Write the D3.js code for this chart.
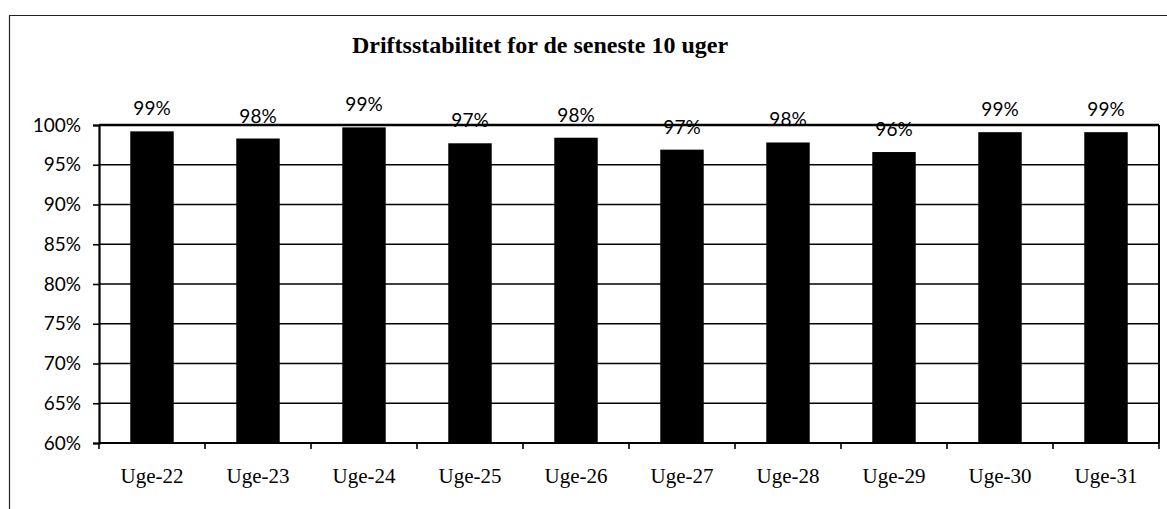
<!DOCTYPE html>
<html>
<head>
<meta charset="utf-8">
<script src="https://cdnjs.cloudflare.com/ajax/libs/d3/7.8.5/d3.min.js"></script>
<style>
  html, body { margin: 0; padding: 0; background: #fff; }
  svg { display: block; }
</style>
</head>
<body>
<div id="chart"></div>
<script>
const categories = ["Uge-22", "Uge-23", "Uge-24", "Uge-25", "Uge-26", "Uge-27", "Uge-28", "Uge-29", "Uge-30", "Uge-31"];
const values = [99.2, 98.3, 99.7, 97.7, 98.4, 96.9, 97.8, 96.6, 99.1, 99.1];
const valueLabels = ["99%", "98%", "99%", "97%", "98%", "97%", "98%", "96%", "99%", "99%"];
const yTicks = [60, 65, 70, 75, 80, 85, 90, 95, 100];
const title = "Driftsstabilitet for de seneste 10 uger";

const W = 1167, H = 509;
const plot = { left: 99, right: 1159, top: 125, bottom: 443 };

const svg = d3.select("#chart").append("svg").attr("width", W).attr("height", H);

// outer chart frame (left + top visible)
svg.append("path")
  .attr("d", `M9.5,${H} L9.5,15.5 L${W},15.5`)
  .attr("fill", "none").attr("stroke", "#222").attr("stroke-width", 1.2);

// title
svg.append("text")
  .attr("x", 540).attr("y", 53)
  .attr("text-anchor", "middle")
  .attr("font-family", "'Liberation Serif', serif")
  .attr("font-weight", "bold")
  .attr("font-size", 24)
  .attr("fill", "#000")
  .text(title);

const x = d3.scaleBand().domain(categories).range([plot.left, plot.right])
  .paddingInner(0.59).paddingOuter(0.295);
const xCat = d3.scaleBand().domain(categories).range([plot.left, plot.right]);
const y = d3.scaleLinear().domain([60, 100]).range([plot.bottom, plot.top]);

// gridlines
svg.append("g").selectAll("line").data(yTicks.filter(d => d > 60)).join("line")
  .attr("x1", plot.left).attr("x2", plot.right)
  .attr("y1", d => y(d)).attr("y2", d => y(d))
  .attr("stroke", "#000").attr("stroke-width", d => d === 100 ? 2.4 : 1.6);

// right border
svg.append("line")
  .attr("x1", plot.right).attr("x2", plot.right)
  .attr("y1", plot.top).attr("y2", plot.bottom)
  .attr("stroke", "#000").attr("stroke-width", 2);

// bars
svg.append("g").selectAll("rect").data(values).join("rect")
  .attr("x", (d, i) => x(categories[i]))
  .attr("width", x.bandwidth())
  .attr("y", d => y(d))
  .attr("height", d => y(60) - y(d))
  .attr("fill", "#000");

// value labels
svg.append("g").selectAll("text").data(values).join("text")
  .attr("x", (d, i) => x(categories[i]) + x.bandwidth() / 2)
  .attr("y", d => y(d) - 16)
  .attr("text-anchor", "middle")
  .attr("font-family", "Lato, sans-serif")
  .attr("font-size", 19)
  .attr("fill", "#000")
  .text((d, i) => valueLabels[i]);

// y axis
const yAxis = svg.append("g")
  .attr("transform", `translate(${plot.left},0)`)
  .call(d3.axisLeft(y).tickValues(yTicks).tickFormat(d => d + "%").tickSize(6).tickPadding(12));
yAxis.select(".domain").attr("stroke", "#000").attr("stroke-width", 2.2);
yAxis.selectAll(".tick line").attr("stroke", "#000").attr("stroke-width", 1.6);
yAxis.selectAll(".tick text")
  .attr("font-family", "Lato, sans-serif").attr("font-size", 19).attr("fill", "#000");

// x axis (category boundary ticks)
const xg = svg.append("g").attr("transform", `translate(0,${plot.bottom})`);
xg.append("line").attr("x1", plot.left).attr("x2", plot.right)
  .attr("y1", 0).attr("y2", 0).attr("stroke", "#000").attr("stroke-width", 2.2);
const bounds = categories.map(c => xCat(c)).concat([plot.right]);
xg.selectAll("line.tk").data(bounds).join("line").attr("class", "tk")
  .attr("x1", d => d).attr("x2", d => d).attr("y1", 0).attr("y2", 6)
  .attr("stroke", "#000").attr("stroke-width", 1.6);
xg.selectAll("text").data(categories).join("text")
  .attr("x", d => xCat(d) + xCat.bandwidth() / 2)
  .attr("y", 40)
  .attr("text-anchor", "middle")
  .attr("font-family", "'Liberation Serif', serif")
  .attr("font-size", 21)
  .attr("fill", "#000")
  .text(d => d);
</script>
</body>
</html>
